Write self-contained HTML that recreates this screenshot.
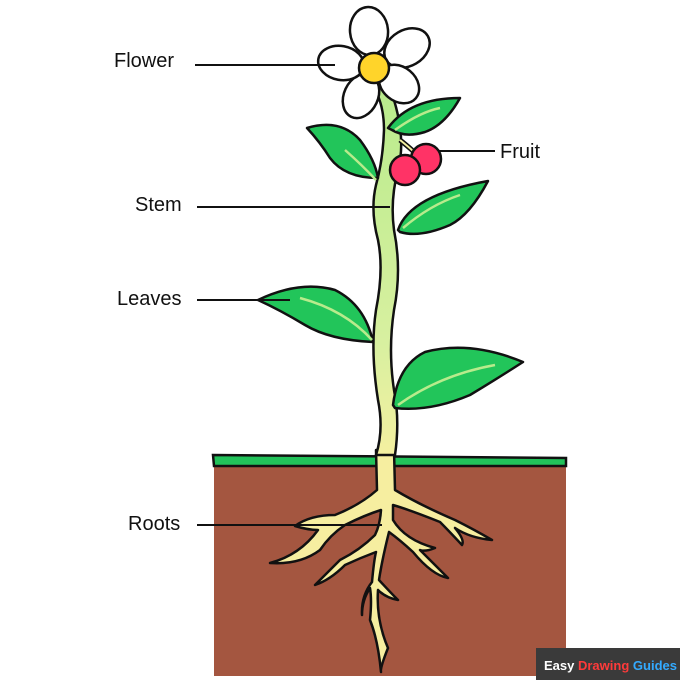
<!DOCTYPE html>
<html><head><style>
html,body{margin:0;padding:0;background:#fff;}
svg{display:block;}
text{font-family:"Liberation Sans",sans-serif;font-size:20px;fill:#111;}
</style></head><body>
<svg width="680" height="680" viewBox="0 0 680 680">
<defs>
<linearGradient id="st" x1="0" y1="0" x2="0" y2="1">
<stop offset="0" stop-color="#b8eb8c"/><stop offset="0.7" stop-color="#d8f0a0"/><stop offset="1" stop-color="#f4f0a0"/>
</linearGradient>
</defs>
<rect x="214" y="464" width="352" height="212" fill="#a45640"/>
<path d="M213 455 L566 458 L566 466 L214 466 Z" fill="#22c25a" stroke="#111" stroke-width="2.5"/>
<g fill="#f6eea0" stroke="#111" stroke-width="2.5" stroke-linejoin="round">
<path d="M376 450 L394 450 L395 490 Q420 505 455 520 Q475 530 492 540 Q470 538 455 528 Q465 540 462 545 Q448 530 440 522 Q410 510 393 505 L393 520 Q405 540 435 548 Q425 552 420 550 Q435 565 448 578 Q432 575 413 552 Q400 540 389 532 Q382 560 379 580 Q390 592 398 600 Q386 598 378 590 Q376 620 388 648 Q380 668 381 672 Q378 640 370 620 Q372 600 370 588 Q362 600 362 615 Q361 596 372 582 Q374 560 376 552 Q360 558 345 565 Q330 580 315 585 Q330 570 340 560 Q360 550 375 535 Q380 525 381 510 Q365 515 345 525 Q330 535 320 550 Q300 565 270 563 Q300 555 318 530 Q308 530 295 526 Q310 515 335 515 Q360 505 377 490 Z"/>
</g>
<path d="M370 82 Q384 100 384 130 Q383 160 376 185 Q370 210 378 240 Q384 270 376 310 Q370 350 378 400 Q384 430 376 455 L395 455 Q400 420 394 390 Q388 350 394 310 Q402 270 394 230 Q390 200 398 170 Q406 140 394 100 Q390 88 384 82 Z" fill="url(#st)" stroke="#111" stroke-width="2.5"/>
<g fill="#22c55a" stroke="#111" stroke-width="2.5" stroke-linejoin="round">
<path d="M307 128 Q340 118 360 140 Q375 160 378 178 Q345 178 330 158 Q320 142 307 128 Z"/>
<path d="M388 128 Q410 98 460 98 Q445 125 425 132 Q405 138 392 130 Z"/>
<path d="M398 230 Q410 195 488 181 Q470 215 450 225 Q420 238 400 232 Z"/>
<path d="M258 300 Q300 280 335 290 Q365 305 373 342 Q330 340 305 325 Q280 310 258 300 Z"/>
<path d="M393 405 Q398 365 425 352 Q470 340 523 362 Q495 380 470 395 Q430 412 395 408 Z"/>
</g>
<g fill="none" stroke="#b8eb8c" stroke-width="2.5">
<path d="M345 150 Q362 165 376 180"/><path d="M395 130 Q420 112 440 108"/>
<path d="M403 228 Q430 205 460 195"/><path d="M300 298 Q345 310 372 340"/>
<path d="M398 405 Q440 375 495 365"/>
</g>
<path d="M400 140 Q410 148 414 152" stroke="#111" stroke-width="5" fill="none"/>
<path d="M400 140 Q410 148 414 152" stroke="#f4f0a0" stroke-width="2" fill="none"/>
<circle cx="426" cy="159" r="15" fill="#ff3366" stroke="#111" stroke-width="2.5"/>
<circle cx="405" cy="170" r="15" fill="#ff3366" stroke="#111" stroke-width="2.5"/>
<g fill="#fff" stroke="#111" stroke-width="2.5">
<ellipse cx="369" cy="31" rx="19" ry="24" transform="rotate(-5 369 31)"/>
<ellipse cx="407" cy="48" rx="18" ry="24" transform="rotate(60 407 48)"/>
<ellipse cx="399" cy="84" rx="17" ry="22" transform="rotate(-50 399 84)"/>
<ellipse cx="361" cy="96" rx="17" ry="23" transform="rotate(25 361 96)"/>
<ellipse cx="341" cy="63" rx="17" ry="23" transform="rotate(-80 341 63)"/>
</g>
<circle cx="374" cy="68" r="15" fill="#ffd42a" stroke="#111" stroke-width="2.5"/>
<g stroke="#111" stroke-width="2">
<line x1="195" y1="65" x2="335" y2="65"/>
<line x1="438" y1="151" x2="495" y2="151"/>
<line x1="197" y1="207" x2="390" y2="207"/>
<line x1="197" y1="300" x2="290" y2="300"/>
<line x1="197" y1="525" x2="382" y2="525"/>
</g>
<text x="114" y="67">Flower</text>
<text x="500" y="158">Fruit</text>
<text x="135" y="211">Stem</text>
<text x="117" y="305">Leaves</text>
<text x="128" y="530">Roots</text>
<rect x="536" y="648" width="144" height="32" fill="#3a3a3a"/>
<text x="544" y="670" style="font-size:13px;font-weight:bold;fill:#fff">Easy <tspan fill="#ff3a3a">Drawing</tspan> <tspan fill="#33aaff">Guides</tspan></text>
</svg>
</body></html>
